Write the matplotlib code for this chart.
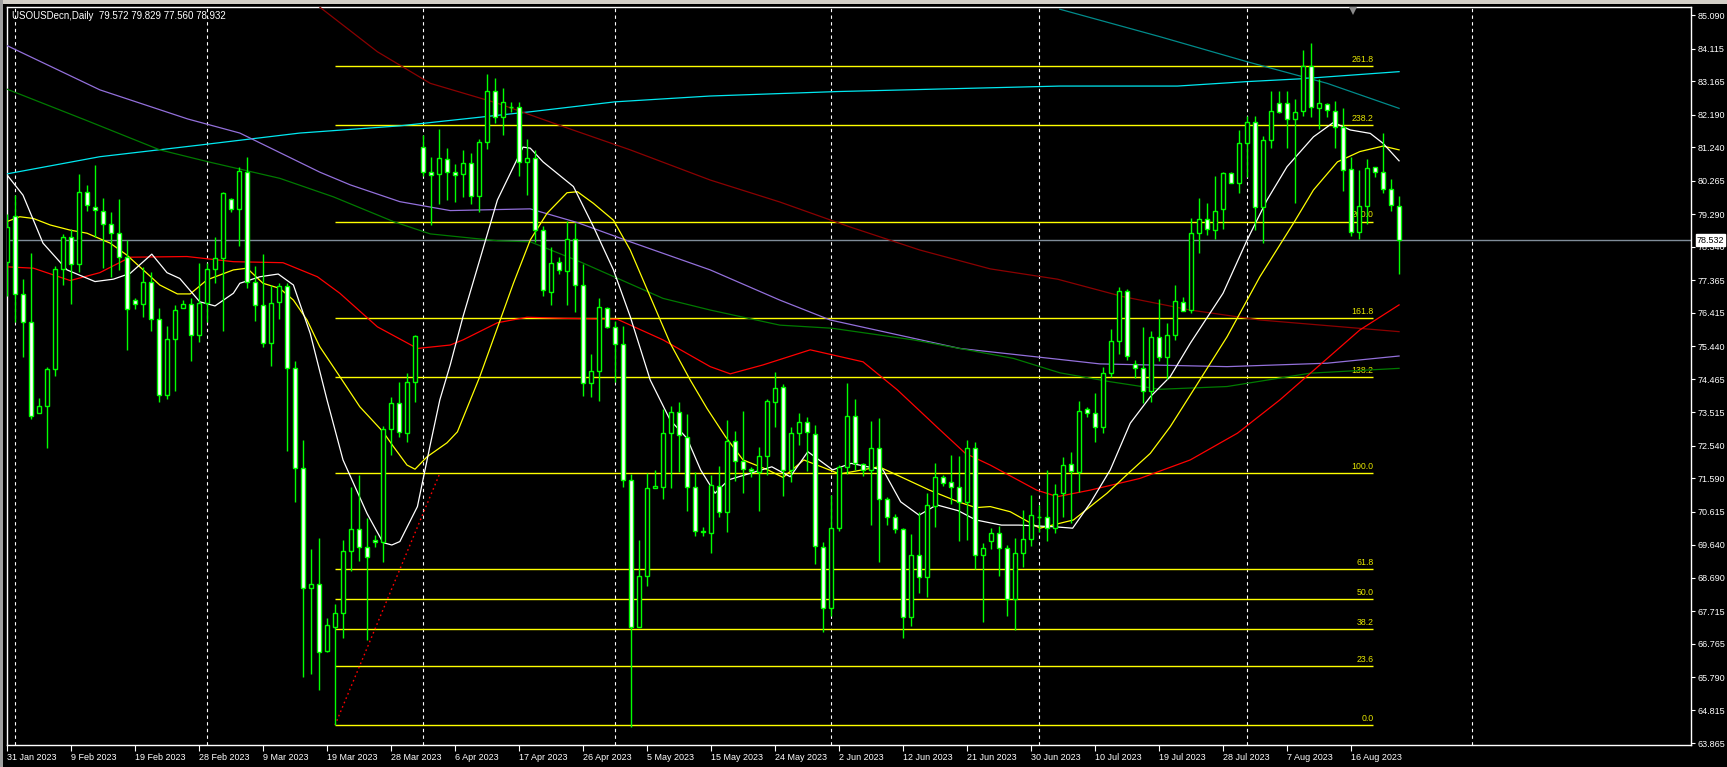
import matplotlib
matplotlib.use("Agg")
import matplotlib.pyplot as plt
from matplotlib.patches import Rectangle
from matplotlib.transforms import blended_transform_factory

plt.rcParams['font.family'] = ['Liberation Sans', 'DejaVu Sans']

# ---------------- data ----------------
title_text = "USOUSDecn,Daily  79.572 79.829 77.560 78.932"

opens = [77.90, 79.24, 76.95, 76.13, 73.48, 73.69, 74.76, 77.68, 78.63, 77.82,
         79.92, 79.50, 79.39, 78.99, 78.73, 78.03, 76.77, 76.66, 77.30, 76.22,
         74.00, 75.66, 76.54, 76.66, 75.75, 76.69, 77.68, 78.00, 79.73, 79.43,
         80.52, 77.32, 76.63, 75.52, 76.73, 77.20, 74.79, 71.88, 68.38, 68.49,
         66.56, 67.26, 67.65, 69.46, 70.10, 69.57, 69.78, 69.72, 73.01, 73.77,
         72.91, 74.40, 81.25, 80.50, 80.45, 80.88, 80.50, 80.45, 80.77, 79.82,
         81.38, 82.89, 82.11, 82.42, 82.42, 80.80, 80.91, 78.81, 77.03, 77.88,
         77.64, 78.55, 77.21, 74.35, 74.70, 76.54, 75.99, 75.49, 71.53, 67.25,
         68.74, 71.29, 71.32, 72.90, 73.51, 72.80, 71.32, 70.04, 70.00, 71.37,
         70.61, 72.68, 72.09, 71.87, 71.78, 72.24, 73.80, 74.24, 71.83, 72.90,
         73.22, 72.87, 69.59, 67.79, 70.13, 71.90, 73.41, 72.00, 71.83, 72.48,
         70.97, 70.45, 70.10, 67.55, 69.35, 68.70, 70.79, 71.63, 71.47, 71.34,
         70.90, 72.46, 69.34, 69.77, 69.98, 69.54, 68.06, 69.40, 69.81, 70.47,
         70.47, 70.15, 71.15, 71.99, 71.78, 73.60, 73.48, 73.09, 74.65, 75.60,
         77.04, 74.91, 74.79, 74.12, 75.69, 75.13, 75.75, 76.72, 76.49, 78.73,
         79.14, 78.82, 79.43, 80.48, 80.19, 81.37, 81.96, 79.49, 81.45, 82.54,
         82.54, 82.06, 82.29, 83.61, 82.37, 82.49, 82.30, 81.84, 80.59, 78.76,
         79.53, 80.67, 80.51, 80.01, 79.53]
highs = [79.30, 79.84, 77.39, 78.14, 73.92, 74.82, 77.78, 78.71, 78.84, 80.46,
         80.13, 80.72, 79.77, 79.34, 79.73, 78.53, 76.83, 77.75, 77.61, 76.54,
         76.02, 76.64, 76.78, 76.83, 77.85, 77.85, 78.61, 79.94, 79.77, 80.67,
         80.94, 77.77, 78.11, 77.22, 77.29, 77.27, 74.99, 72.70, 69.52, 69.83,
         67.50, 67.92, 69.79, 71.32, 71.68, 70.42, 69.93, 73.11, 73.96, 74.40,
         74.66, 75.76, 81.59, 80.96, 81.77, 81.20, 80.74, 81.16, 81.06, 81.49,
         83.37, 83.25, 82.95, 82.55, 82.56, 81.47, 81.17, 78.94, 78.32, 78.03,
         79.09, 79.04, 77.84, 75.21, 76.83, 76.59, 76.18, 76.02, 71.71, 69.79,
         71.75, 71.83, 73.60, 73.69, 73.82, 73.46, 71.78, 70.16, 71.68, 71.95,
         73.28, 72.96, 73.55, 71.92, 72.49, 73.90, 74.69, 74.33, 73.09, 73.50,
         73.36, 73.14, 69.72, 71.10, 71.97, 74.35, 73.90, 72.02, 73.25, 73.33,
         71.05, 70.54, 70.13, 69.96, 70.61, 71.17, 72.02, 71.68, 72.26, 72.23,
         72.70, 72.65, 69.69, 70.13, 70.19, 69.64, 69.83, 70.66, 71.10, 70.81,
         71.83, 71.41, 72.20, 72.34, 73.84, 73.67, 74.06, 74.84, 75.94, 77.17,
         77.10, 75.03, 76.01, 75.88, 76.81, 76.12, 77.22, 76.88, 79.16, 79.75,
         79.60, 80.40, 80.52, 80.51, 81.74, 82.16, 82.15, 81.56, 82.88, 82.88,
         82.88, 82.64, 84.07, 84.29, 83.23, 82.54, 82.57, 82.37, 80.96, 80.57,
         80.88, 80.67, 81.64, 80.31, 79.81]
lows = [76.90, 76.15, 75.13, 73.30, 73.48, 72.48, 74.57, 77.22, 76.68, 77.61,
        79.39, 78.63, 77.71, 77.44, 77.66, 75.32, 76.51, 76.30, 75.89, 73.82,
        73.89, 74.14, 76.54, 75.01, 75.57, 76.15, 77.27, 75.89, 79.36, 78.36,
        77.12, 76.17, 75.42, 74.86, 76.22, 72.39, 70.90, 65.80, 65.88, 65.41,
        66.53, 64.39, 66.94, 68.89, 69.17, 66.87, 69.59, 69.15, 72.26, 72.80,
        72.65, 73.82, 80.40, 78.97, 79.58, 79.70, 79.65, 79.79, 79.58, 79.36,
        81.19, 81.95, 81.59, 82.27, 80.40, 79.84, 78.48, 76.90, 76.64, 77.54,
        76.64, 76.44, 73.98, 73.96, 73.85, 75.96, 74.40, 71.34, 64.33, 67.25,
        68.45, 71.29, 70.97, 71.29, 71.78, 70.64, 69.90, 69.91, 69.40, 70.45,
        70.03, 71.51, 71.17, 71.63, 70.64, 71.68, 73.09, 71.08, 71.49, 72.56,
        71.81, 69.09, 67.11, 67.57, 70.06, 71.71, 71.83, 71.65, 70.22, 69.15,
        70.22, 69.98, 66.94, 67.28, 68.25, 68.13, 70.17, 71.36, 70.84, 69.77,
        69.79, 68.93, 67.40, 69.51, 68.74, 67.57, 67.16, 69.01, 69.61, 70.03,
        69.77, 69.98, 70.45, 70.27, 71.19, 73.38, 72.65, 72.91, 74.53, 75.21,
        75.03, 74.50, 73.77, 73.80, 74.99, 74.47, 75.62, 76.47, 76.39, 78.16,
        78.68, 78.56, 78.85, 80.19, 79.91, 80.36, 78.82, 78.45, 81.20, 82.23,
        81.20, 79.62, 82.15, 82.13, 81.76, 82.13, 81.22, 79.97, 78.66, 78.56,
        79.00, 80.36, 79.89, 79.39, 77.53]
closes = [78.90, 76.96, 76.13, 73.40, 73.69, 74.76, 77.68, 78.61, 77.82, 79.92,
          79.54, 79.41, 78.99, 78.73, 78.03, 76.51, 76.66, 77.30, 76.22, 74.00,
          75.66, 76.48, 76.66, 75.75, 76.69, 77.68, 78.00, 79.89, 79.43, 80.54,
          77.32, 76.63, 75.52, 76.69, 77.20, 74.79, 71.88, 68.38, 68.49, 66.51,
          67.30, 67.65, 69.46, 70.10, 69.57, 69.28, 69.72, 73.01, 73.77, 72.94,
          74.40, 75.73, 80.51, 80.43, 80.91, 80.50, 80.43, 80.77, 79.82, 81.38,
          82.89, 82.11, 82.55, 82.40, 80.80, 80.91, 78.81, 77.07, 77.85, 77.66,
          78.55, 77.21, 74.35, 74.70, 76.59, 75.99, 75.49, 71.53, 67.24, 68.74,
          71.29, 71.36, 72.90, 73.51, 72.85, 71.32, 70.05, 70.02, 71.39, 70.61,
          72.68, 72.09, 71.87, 71.80, 72.24, 73.83, 74.21, 71.84, 72.90, 73.22,
          72.94, 69.61, 67.79, 70.13, 71.92, 73.41, 72.02, 71.83, 72.48, 70.97,
          70.45, 70.10, 67.55, 69.35, 68.72, 70.81, 71.61, 71.46, 71.32, 70.90,
          72.46, 69.34, 69.54, 69.99, 69.54, 68.06, 69.40, 69.81, 70.50, 70.46,
          70.15, 71.12, 71.96, 71.80, 73.56, 73.48, 73.07, 74.65, 75.59, 77.04,
          75.16, 74.79, 74.12, 75.69, 75.13, 75.75, 76.75, 76.47, 78.73, 79.14,
          78.84, 79.39, 80.49, 80.19, 81.37, 81.96, 79.49, 81.45, 82.29, 82.27,
          82.06, 82.27, 83.61, 82.40, 82.52, 82.32, 81.82, 80.57, 78.76, 79.53,
          80.62, 80.51, 80.01, 79.55, 78.53]

# moving averages (bar index, price)
ma_white_x = [0, 2.0, 4.5, 7.5, 11.0, 13.3, 15.4, 18.1, 20.0, 21.6, 24.1, 26.0, 28.3, 29.1, 31.6,
              33.9, 35.8, 37.9, 40.0, 42.0, 45.0, 47.0, 48.1, 49.1, 51.3, 52.9, 54.1, 55.4, 57.0,
              61.3, 64.5, 65.4, 67.0, 70.8, 73.3, 75.8, 77.9, 80.4, 82.9, 85.0, 86.7, 88.5, 90.2,
              95.6, 97.9, 100.1, 103.2, 105.5, 109.5, 111.7, 114.0, 116.2, 118.9, 121.1, 124.3,
              126.5, 131.0, 133.2, 135.4, 137.9, 140.4, 142.9, 145.4, 147.9, 152.0, 155.0, 157.5,
              160.0, 163.3, 165.8, 167.9, 170.4, 172.0, 174.0]
ma_white_y = [80.43, 79.84, 78.44, 77.66, 77.32, 77.39, 77.56, 78.12, 77.58, 77.41, 76.73, 76.61,
              76.98, 77.27, 77.46, 77.54, 77.22, 75.81, 73.87, 72.12, 70.56, 69.71, 69.64, 69.74,
              70.76, 72.56, 73.87, 74.89, 76.30, 79.70, 81.24, 81.21, 80.81, 80.09, 78.92, 77.66,
              76.30, 74.45, 73.28, 72.75, 71.83, 71.15, 71.54, 71.92, 71.63, 72.36, 71.83, 72.02,
              71.83, 70.90, 70.51, 70.81, 70.64, 70.37, 70.22, 70.22, 70.17, 70.13, 70.86, 71.83,
              73.19, 73.96, 74.55, 75.52, 76.98, 78.53, 79.70, 80.67, 81.54, 81.96, 81.74, 81.64,
              81.35, 80.84]

ma_yellow_x = [0, 1.6, 3.3, 5.4, 7.9, 10.0, 12.9, 15.0, 16.6, 19.1, 21.3, 22.9, 25.0, 28.3, 30.0,
               32.0, 34.1, 35.8, 37.5, 39.1, 41.6, 44.1, 47.0, 48.3, 50.0, 51.0, 52.5, 55.0, 56.3,
               59.1, 63.3, 65.4, 67.5, 70.0, 71.3, 73.3, 75.8, 77.9, 80.4, 82.9, 85.4, 87.5, 89.8,
               92.0, 95.1, 97.0, 99.6, 104.1, 109.0, 111.7, 115.3, 118.9, 121.1, 122.9, 125.4,
               129.1, 133.3, 137.5, 140.4, 142.9, 145.4, 147.9, 152.5, 156.6, 160.8, 163.3, 166.3,
               169.1, 172.0, 174.0]
ma_yellow_y = [79.07, 79.21, 79.16, 78.97, 78.82, 78.73, 78.44, 78.09, 77.75, 77.22, 76.96, 76.96,
               77.37, 77.66, 77.71, 77.27, 77.12, 76.78, 76.20, 75.42, 74.55, 73.67, 72.94, 72.51,
               71.97, 71.85, 72.21, 72.62, 72.94, 74.55, 77.27, 78.53, 79.31, 79.91, 79.94, 79.60,
               79.11, 78.24, 76.88, 75.52, 74.45, 73.62, 72.80, 72.12, 71.83, 71.61, 72.12, 71.71,
               71.92, 71.63, 71.24, 70.90, 70.73, 70.76, 70.61, 70.13, 70.37, 71.15, 71.78, 72.31,
               73.09, 74.01, 75.71, 77.46, 79.02, 79.99, 80.81, 81.11, 81.27, 81.16]

ma_red_x = [0, 3.3, 7.9, 11.6, 15.4, 22.5, 28.3, 34.5, 38.8, 41.6, 46.3, 51.3, 55.4, 57.0, 61.3,
            65.0, 69.5, 76.3, 82.0, 87.9, 90.4, 94.5, 100.4, 103.8, 107.0, 111.3, 116.6, 119.8,
            122.9, 128.7, 131.3, 135.4, 141.6, 147.9, 153.8, 159.1, 169.1, 174.0]
ma_red_y = [77.75, 77.71, 77.35, 77.58, 78.03, 78.05, 77.90, 77.87, 77.46, 76.98, 76.00, 75.37,
            75.47, 75.62, 76.12, 76.28, 76.25, 76.22, 75.62, 74.84, 74.63, 74.89, 75.33, 75.15,
            74.98, 74.16, 73.00, 72.31, 71.97, 71.24, 71.05, 71.24, 71.58, 72.12, 72.90, 73.87,
            75.91, 76.64]

ma_maroon_x = [39.1, 46.3, 49.1, 52.9, 61.3, 69.5, 77.9, 87.9, 96.6, 105.4, 114.1, 122.9, 131.3,
               139.5, 147.9, 156.6, 174.0]
ma_maroon_y = [85.32, 84.02, 83.63, 83.10, 82.52, 81.84, 81.16, 80.28, 79.64, 78.91, 78.24, 77.69,
               77.39, 76.88, 76.49, 76.20, 75.86]

ma_purple_x = [0, 11.6, 22.6, 29.1, 39.1, 42.9, 49.1, 55.4, 65.4, 71.3, 77.9, 87.9, 96.6, 102.9,
               119.1, 131.6, 136.6, 152.5, 165.0, 174.0]
ma_purple_y = [84.20, 82.91, 82.06, 81.65, 80.51, 80.14, 79.65, 79.39, 79.44, 79.04, 78.48, 77.66,
               76.78, 76.20, 75.37, 75.05, 74.92, 74.84, 74.94, 75.15]

ma_green_x = [0, 9.8, 19.1, 25.0, 34.1, 40.8, 48.3, 52.9, 61.3, 65.4, 71.6, 82.0, 87.9, 96.6,
              103.1, 113.3, 125.8, 131.6, 137.9, 144.1, 152.5, 162.9, 174.0]
ma_green_y = [82.93, 82.03, 81.16, 80.82, 80.33, 79.79, 79.07, 78.71, 78.51, 78.48, 77.90, 76.83,
              76.49, 76.05, 75.96, 75.62, 75.08, 74.66, 74.40, 74.18, 74.26, 74.65, 74.79]

ma_cyan_x = [0, 11.6, 24.1, 36.6, 49.1, 65.4, 76.0, 87.9, 103.8, 131.6, 146.3, 155.0, 161.6, 174.0]
ma_cyan_y = [80.46, 80.96, 81.30, 81.65, 81.86, 82.27, 82.56, 82.73, 82.86, 83.02, 83.02, 83.15,
             83.23, 83.44]

ma_teal_x = [131.6, 144.1, 155.0, 165.0, 174.0]
ma_teal_y = [85.26, 84.46, 83.73, 83.10, 82.37]

# Fibonacci tool anchors (bar index, price)
fib_start_bar = 41
fib_end_bar = 170.8
fib_low = 64.39
fib_high = 71.73
fib_trend_end_bar = 54.1
fib_ratios = [0.0, 23.6, 38.2, 50.0, 61.8, 100.0, 138.2, 161.8, 200.0, 238.2, 261.8]

bid_price = 78.532
month_sep_bars = [1, 25, 52, 76, 103, 129, 155, 183.1]
shift_marker_bar = 168.3

price_ticks = [85.090, 84.115, 83.165, 82.190, 81.240, 80.265, 79.290, 78.340, 77.365, 76.415,
               75.440, 74.465, 73.515, 72.540, 71.590, 70.615, 69.640, 68.690, 67.715, 66.765,
               65.790, 64.815, 63.865]
date_labels = ['31 Jan 2023', '9 Feb 2023', '19 Feb 2023', '28 Feb 2023', '9 Mar 2023',
               '19 Mar 2023', '28 Mar 2023', '6 Apr 2023', '17 Apr 2023', '26 Apr 2023',
               '5 May 2023', '15 May 2023', '24 May 2023', '2 Jun 2023', '12 Jun 2023',
               '21 Jun 2023', '30 Jun 2023', '10 Jul 2023', '19 Jul 2023', '28 Jul 2023',
               '7 Aug 2023', '16 Aug 2023']
bars_per_label = 8

# ---------------- figure ----------------
W, H = 1727, 767
fig = plt.figure(figsize=(W / 100, H / 100), dpi=100, facecolor='black')
ax = fig.add_axes([7 / W, 22 / H, (1691 - 7) / W, (745 - 7) / H])
ax.set_facecolor('black')

n = len(opens)
idx = list(range(n))

# month separators
for b in month_sep_bars:
    ax.axvline(b, color='white', lw=0.8, ls=(0, (3, 3)), zorder=1)

# fib levels
rng = fib_high - fib_low
for r in fib_ratios:
    lv = fib_low + rng * r / 100.0
    ax.plot([fib_start_bar, fib_end_bar], [lv, lv], color='#ffff00', lw=1.0, zorder=2,
            solid_capstyle='butt')
    ax.text(fib_end_bar, lv + 0.06, f"{r:.1f}", color='#e6e600', fontsize=6.3,
            ha='right', va='bottom', zorder=2)
ax.plot([fib_start_bar, fib_trend_end_bar], [fib_low, fib_high], color='#ff0000', lw=1.0,
        ls=(0, (1.2, 2.2)), zorder=2)

# bid line
ax.axhline(bid_price, color='#7f8c99', lw=1.0, zorder=2)

# moving averages
ma_lines = [
    (ma_cyan_x, ma_cyan_y, '#00e8f0'),
    (ma_teal_x, ma_teal_y, '#008b8b'),
    (ma_purple_x, ma_purple_y, '#9370db'),
    (ma_green_x, ma_green_y, '#007a00'),
    (ma_maroon_x, ma_maroon_y, '#8b0000'),
    (ma_red_x, ma_red_y, '#ff0000'),
    (ma_yellow_x, ma_yellow_y, '#ffff00'),
    (ma_white_x, ma_white_y, '#ffffff'),
]
for xs, ys, c in ma_lines:
    ax.plot(xs, ys, color=c, lw=0.9, zorder=3)

# candles
wick_col = '#00ff00'
ax.vlines(idx, lows, highs, color=wick_col, lw=1.0, zorder=4)
for i in idx:
    o, c = opens[i], closes[i]
    fill = 'black' if c >= o else 'white'
    ax.add_patch(Rectangle((i - 0.25, min(o, c)), 0.5, abs(c - o), facecolor=fill,
                           edgecolor=wick_col, lw=1.0, zorder=5))

# shift marker
ax.plot([shift_marker_bar], [85.22], marker='v', color='#8a8a8a', ms=6, zorder=6,
        clip_on=False, markeredgewidth=0)

# axes styling
ax.set_xlim(0.0125, 210.49)
ax.set_ylim(63.809, 85.325)
for s in ax.spines.values():
    s.set_color('white')
    s.set_linewidth(1.0)

ax.yaxis.tick_right()
ax.set_yticks(price_ticks)
ax.set_yticklabels([f"{v:.3f}" for v in price_ticks])
ax.tick_params(axis='y', colors='white', labelsize=6.5, length=3, width=0.8, pad=2)

ax.set_xticks([k * bars_per_label for k in range(len(date_labels))])
ax.set_xticklabels(date_labels, ha='left')
ax.tick_params(axis='x', colors='white', labelsize=6.5, length=4, width=0.8, pad=2)
for lab in ax.get_xticklabels():
    lab.set_x(0)

# bid label on the price axis
tr = blended_transform_factory(ax.transAxes, ax.transData)
ax.text(1.0035, bid_price, f"{bid_price:.3f}", transform=tr, fontsize=6.5, color='black',
        ha='left', va='center', zorder=10, clip_on=False,
        bbox=dict(boxstyle='square,pad=0.12', facecolor='white', edgecolor='white'))

# title
fig.text(12 / W, 1 - 15.7 / H, title_text, color='white', fontsize=7, ha='left', va='center')

# window chrome
fig.patches.append(Rectangle((0, 1 - 4 / H), 1, 4 / H, transform=fig.transFigure,
                             facecolor='#d4d0c8', edgecolor='none', zorder=0))
fig.patches.append(Rectangle((0, 0), 3 / W, 1, transform=fig.transFigure,
                             facecolor='#a0a0a0', edgecolor='none', zorder=0))

fig.savefig('out.png', dpi=100, facecolor='black')
